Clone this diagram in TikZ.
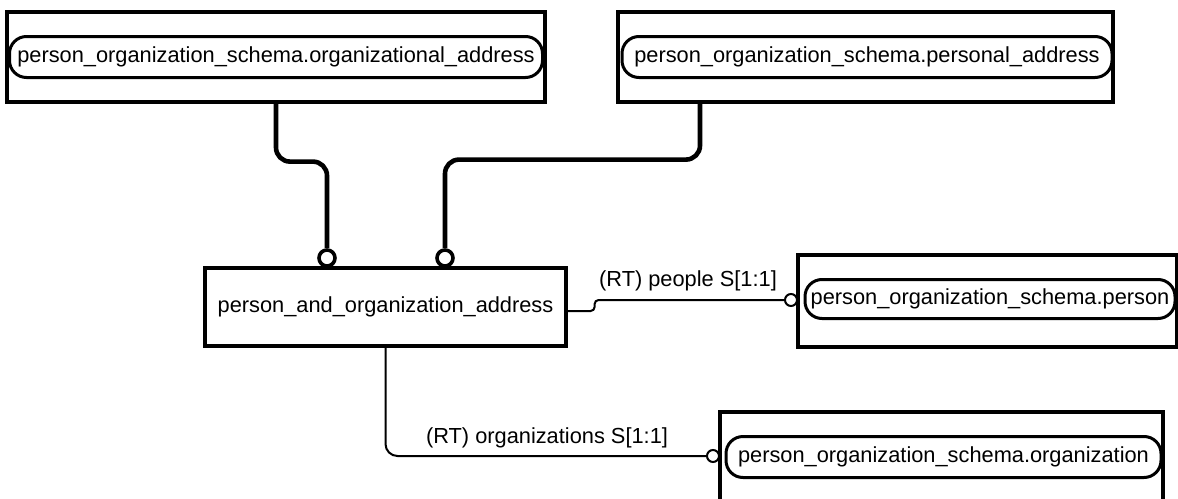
\documentclass[tikz,border=0pt]{standalone}
\usepackage{fontspec}
\setmainfont{Liberation Sans}
\usetikzlibrary{positioning,calc}

\begin{document}
\begin{tikzpicture}[x=0.5pt,y=-0.5pt,
         font=\fontsize{10.9pt}{13pt}\selectfont,
         entity/.style = {draw,line width=1.6pt,rectangle,inner sep=0pt},
         schemaref/.style = {draw,line width=1.5pt,rectangle,rounded corners=8.5pt,
            minimum height=20.5pt,inner sep=0pt},
         ring/.style = {draw,circle,fill=white,inner sep=0pt},
         bigring/.style = {ring,line width=1.8pt,minimum size=8pt},
         smallring/.style = {ring,line width=1pt,minimum size=6pt},
         subtype/.style = {line width=2.3pt,rounded corners=7pt},
         attrib/.style = {line width=1pt}
]

      \useasboundingbox (0,0) rectangle (1178,498);

      % referenced entities, top row
      \node[entity,minimum width=269pt,minimum height=45pt]   (oaddr) at (276,57) {};
      \node[schemaref,minimum width=266.5pt] (oaddrname) at (oaddr.center)
         {person\_organization\_schema.organizational\_address};

      \node[entity,minimum width=247.5pt,minimum height=45pt] (paddr) at (865.5,57) {};
      \node[schemaref,minimum width=245pt] (paddrname) at (867,57)
         {person\_organization\_schema.personal\_address};

      % the entity itself
      \node[entity,minimum width=180.5pt,minimum height=39pt] (addr) at (385.5,307)
         {person\_and\_organization\_address};

      % referenced entities, right
      \node[entity,minimum width=189.5pt,minimum height=46pt] (pers) at (987.5,301) {};
      \node[schemaref,minimum width=185pt,minimum height=19.5pt] (persname) at (990,299)
         {person\_organization\_schema.person};

      \node[entity,minimum width=221.5pt,minimum height=45pt] (org) at (941.5,457) {};
      \node[schemaref,minimum width=217.5pt] (orgname) at (943.5,457)
         {person\_organization\_schema.organization};

      % supertype rings
      \node[bigring] (r1) at (327,258) {};
      \node[bigring] (r2) at (445,258) {};

      % attribute rings
      \node[smallring] (r3) at (791,300) {};
      \node[smallring] (r4) at (713,456) {};

      \draw[subtype] (oaddr.south) -- ++(0,58) -| (r1.north);
      \draw[subtype] ([xshift=-82.75pt]paddr.south) -- ++(0,56) -| (r2.north);

      \draw[attrib,rounded corners=2pt] ([yshift=-2pt]addr.east) -- ++(27,0) |- (r3.west);
      \draw[attrib,rounded corners=6pt] (addr.south) |- (r4.west);

      % role labels
      \node (people) at (688,281) {(RT) people S[1:1]};
      \node (orgs)   at (547,438) {(RT) organizations S[1:1]};

\end{tikzpicture}
\end{document}
